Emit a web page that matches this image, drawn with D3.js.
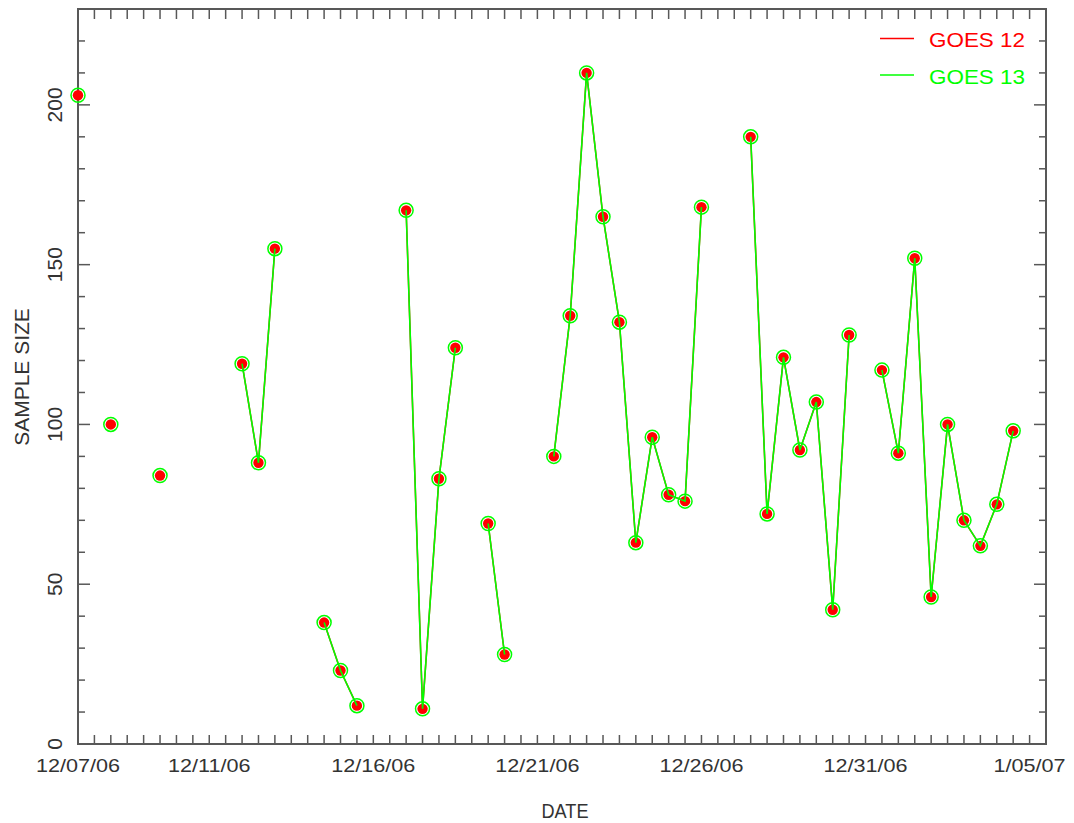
<!DOCTYPE html>
<html>
<head>
<meta charset="utf-8">
<script src="https://cdn.jsdelivr.net/npm/d3@7"></script>
<style>
  html, body { margin: 0; padding: 0; background: #ffffff; }
  svg { display: block; }
  text { font-family: "Liberation Sans", Arial, sans-serif; }
</style>
</head>
<body>
<svg id="chart" width="1074" height="823"></svg>
<script>
// ---- data (one value every 12 hours, null = no sample) ----
const startDate = "2006-12-07T00:00:00Z";
const endDate = "2007-01-05T12:00:00Z";
const goes12 = [203, null, 100, null, null, 84, null, null, null, null,
  119, 88, 155, null, null, 38, 23, 12, null, null,
  167, 11, 83, 124, null, 69, 28, null, null, 90,
  134, 210, 165, 132, 63, 96, 78, 76, 168, null,
  null, 190, 72, 121, 92, 107, 42, 128, null, 117,
  91, 152, 46, 100, 70, 62, 75, 98];
const goes13 = [203, null, 100, null, null, 84, null, null, null, null,
  119, 88, 155, null, null, 38, 23, 12, null, null,
  167, 11, 83, 124, null, 69, 28, null, null, 90,
  134, 210, 165, 132, 63, 96, 78, 76, 168, null,
  null, 190, 72, 121, 92, 107, 42, 128, null, 117,
  91, 152, 46, 100, 70, 62, 75, 98];
const seriesNames = ["GOES 12", "GOES 13"];
const seriesColors = ["#ff0000", "#00ff00"];
const xTickDates = ["2006-12-07", "2006-12-11", "2006-12-16", "2006-12-21", "2006-12-26", "2006-12-31", "2007-01-05"];
const yTickValues = [0, 50, 100, 150, 200];
const yDomain = [0, 230];

// ---- layout ----
const svg = d3.select("#chart");
const L = 78, R = 1046, T = 9, B = 744;
const axisColor = "#585858";
const textColor = "#333333";

const t0 = new Date(startDate);
const halfDay = 12 * 3600 * 1000;
const rows = (vals) => vals.map((v, i) => ({ date: new Date(t0.getTime() + i * halfDay), value: v }));

const x = d3.scaleUtc().domain([t0, new Date(endDate)]).range([L, R]);
const y = d3.scaleLinear().domain(yDomain).range([B, T]);

// ---- ticks ----
const g = svg.append("g");
const minorX = d3.utcHour.every(12).range(new Date(t0.getTime() + halfDay), new Date(endDate));
// bottom x ticks (inward)
g.append("g").selectAll("line").data(minorX).join("line")
  .attr("x1", d => x(d)).attr("x2", d => x(d))
  .attr("y1", B).attr("y2", B - 9)
  .attr("stroke", axisColor).attr("stroke-width", 1.5);
// top x ticks
g.append("g").selectAll("line").data(minorX).join("line")
  .attr("x1", d => x(d)).attr("x2", d => x(d))
  .attr("y1", T).attr("y2", T + 10)
  .attr("stroke", axisColor).attr("stroke-width", 1.5);

const yMinor = d3.range(10, 231, 10);
[["left", L, 1], ["right", R, -1]].forEach(([side, x0, dir]) => {
  g.append("g").selectAll("line").data(yMinor).join("line")
    .attr("x1", x0).attr("x2", d => x0 + dir * (d % 50 === 0 ? 12 : 7))
    .attr("y1", d => y(d)).attr("y2", d => y(d))
    .attr("stroke", axisColor).attr("stroke-width", 1.5);
});

// frame
svg.append("rect").attr("x", L).attr("y", T).attr("width", R - L).attr("height", B - T)
  .attr("fill", "none").attr("stroke", axisColor).attr("stroke-width", 2);

// x tick labels
const fmt = d3.utcFormat("%-m/%d/%y");
svg.append("g").selectAll("text").data(xTickDates.map(s => new Date(s + "T00:00:00Z"))).join("text")
  .attr("x", d => x(d)).attr("y", 772)
  .attr("text-anchor", "middle")
  .attr("font-size", 18).attr("fill", textColor)
  .text(d => fmt(d))
  .each(function () {
    const w = this.getComputedTextLength();
    d3.select(this).attr("textLength", w * 1.2).attr("lengthAdjust", "spacingAndGlyphs");
  });

// y tick labels (rotated)
svg.append("g").selectAll("text").data(yTickValues).join("text")
  .attr("transform", d => `translate(62,${y(d)}) rotate(-90)`)
  .attr("text-anchor", "middle")
  .attr("font-size", 21).attr("fill", textColor)
  .text(d => d);

// axis titles
svg.append("text").attr("x", 565).attr("y", 818).attr("text-anchor", "middle")
  .attr("font-size", 21).attr("fill", textColor)
  .attr("textLength", 47).attr("lengthAdjust", "spacingAndGlyphs")
  .text("DATE");
svg.append("text").attr("transform", "translate(29,377) rotate(-90)").attr("text-anchor", "middle")
  .attr("font-size", 21).attr("fill", textColor)
  .text("SAMPLE SIZE");

// ---- series ----
const line = d3.line().defined(d => d.value !== null).x(d => x(d.date)).y(d => y(d.value));
const d12 = rows(goes12), d13 = rows(goes13);

svg.append("path").datum(d12).attr("d", line).attr("fill", "none")
  .attr("stroke", seriesColors[0]).attr("stroke-width", 1.5);
svg.append("g").selectAll("circle").data(d12.filter(d => d.value !== null)).join("circle")
  .attr("cx", d => x(d.date)).attr("cy", d => y(d.value)).attr("r", 5.2)
  .attr("fill", seriesColors[0]);

svg.append("path").datum(d13).attr("d", line).attr("fill", "none")
  .attr("stroke", seriesColors[1]).attr("stroke-width", 1.6);
svg.append("g").selectAll("circle").data(d13.filter(d => d.value !== null)).join("circle")
  .attr("cx", d => x(d.date)).attr("cy", d => y(d.value)).attr("r", 7)
  .attr("fill", "none").attr("stroke", seriesColors[1]).attr("stroke-width", 1.5);

// ---- legend ----
const legend = svg.append("g");
seriesNames.forEach((name, i) => {
  const ly = 38.5 + i * 36.5;
  legend.append("line").attr("x1", 880).attr("x2", 914).attr("y1", ly).attr("y2", ly)
    .attr("stroke", seriesColors[i]).attr("stroke-width", 1.5);
  legend.append("text").attr("x", 929).attr("y", ly + 8.5)
    .attr("font-size", 21).attr("fill", seriesColors[i])
    .attr("textLength", 96).attr("lengthAdjust", "spacingAndGlyphs")
    .text(name);
});
</script>
</body>
</html>
